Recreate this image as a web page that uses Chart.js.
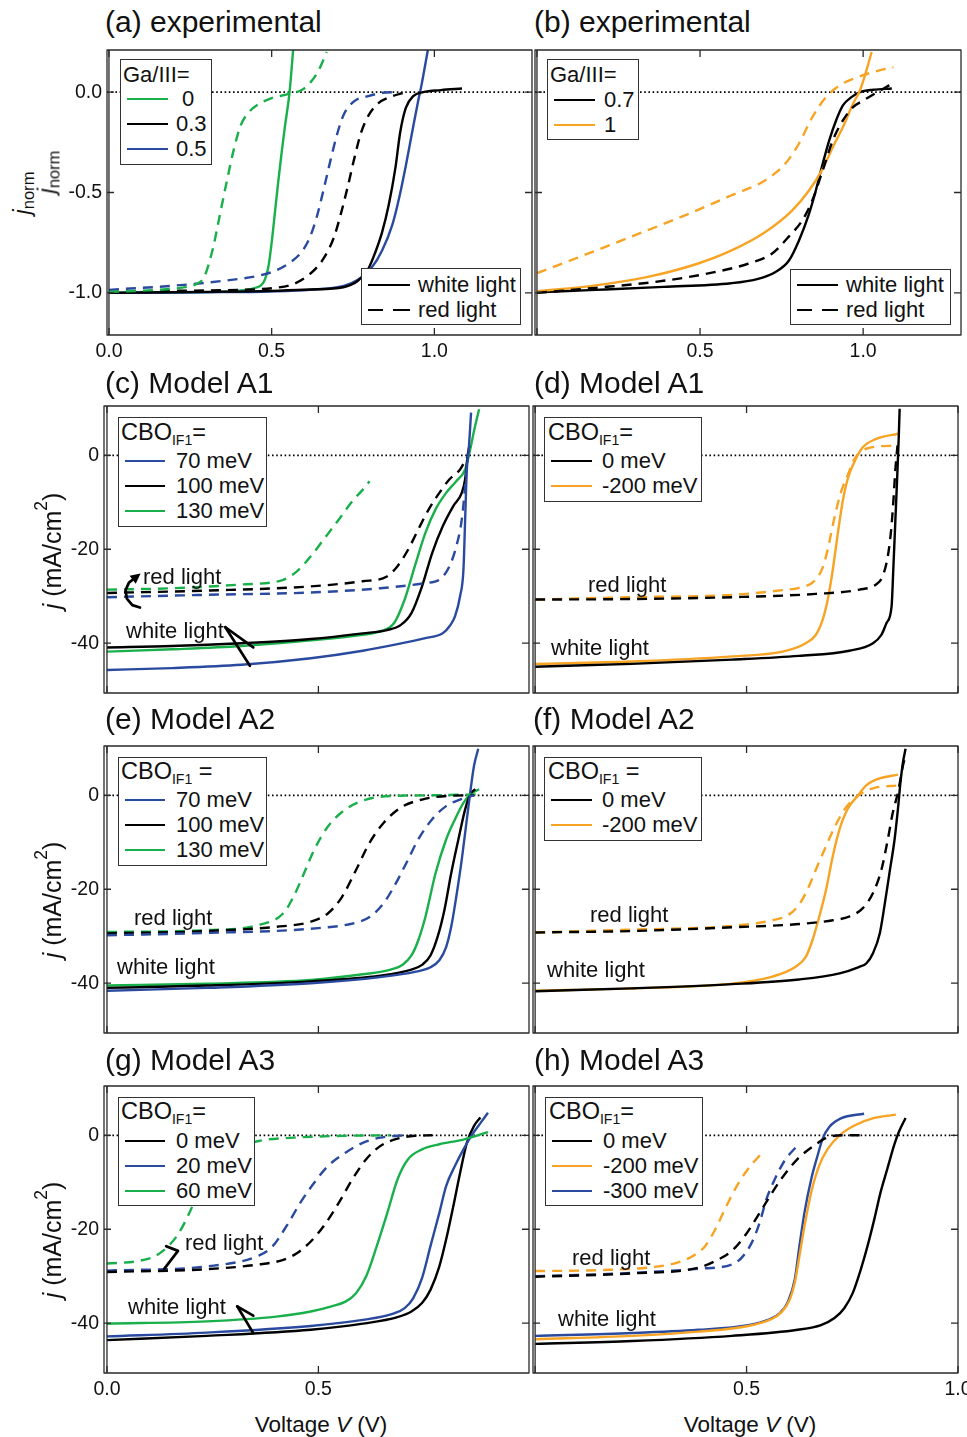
<!DOCTYPE html>
<html><head><meta charset="utf-8">
<script src="https://cdn.jsdelivr.net/npm/chart.js@4.4.1/dist/chart.umd.min.js"></script>
<style>
html,body{margin:0;padding:0;background:#fff}
body{position:relative;width:967px;height:1437px;overflow:hidden;font-family:"Liberation Sans",Arial,Helvetica,sans-serif;color:#111}
canvas{position:absolute}
.tx{position:absolute;white-space:pre;line-height:1}
.leg{position:absolute;background:#fff;border:1.3px solid #333;box-sizing:border-box}
.ln{position:absolute;height:2px}
sub{font-size:0.6em;vertical-align:-0.34em;line-height:0}
sup{font-size:0.7em;vertical-align:0.8em;line-height:0}
.rot{position:absolute;transform:translate(-50%,-50%) rotate(-90deg);white-space:nowrap;line-height:1}
.rot sub{font-size:0.72em;vertical-align:-0.3em}
</style></head><body>
<script>
// ---------------- DATA (V in volts, j normalized or mA/cm2) ----------------
// tick values / labels
const xTicks = [0, 0.5, 1.0];
const yTicksExp = [0, -0.5, -1.0];
const yTicksModel = [0, -20, -40];
const xTickLabelsA = ['0.0', '0.5', '1.0'];
const xTickLabelsB = ['', '0.5', '1.0'];
const xTickLabelsG = ['0.0', '0.5', ''];
const xTickLabelsH = ['', '0.5', '1.0'];
const yTickLabelsExp = ['0.0', '-0.5', '-1.0'];
const yTickLabelsModel = ['0', '-20', '-40'];
// legend categories
const gaRatiosA = [' 0', '0.3', '0.5'];
const gaRatiosB = ['0.7', '1'];
const cboA1A2 = ['70 meV', '100 meV', '130 meV'];
const cboRight = ['0 meV', '-200 meV'];
const cboG = ['0 meV', '20 meV', '60 meV'];
const cboH = ['0 meV', '-200 meV', '-300 meV'];
const lightTypes = ['white light', 'red light'];

// (a) experimental
const a_g0_w = [[0,-1.0],[0.2,-0.998],[0.35,-0.994],[0.42,-0.985],[0.45,-0.975],[0.47,-0.958],[0.48,-0.93],[0.49,-0.87],[0.50,-0.75],[0.51,-0.6],[0.52,-0.45],[0.53,-0.31],[0.54,-0.18],[0.555,0.0],[0.566,0.21]];
const a_g0_r = [[0,-0.995],[0.15,-0.985],[0.24,-0.97],[0.27,-0.955],[0.293,-0.92],[0.32,-0.775],[0.341,-0.61],[0.362,-0.445],[0.383,-0.29],[0.405,-0.165],[0.43,-0.1],[0.46,-0.06],[0.5,-0.03],[0.55,-0.01],[0.595,0.013],[0.62,0.05],[0.643,0.104],[0.669,0.2]];
const a_k03_w = [[0,-1.0],[0.3,-0.995],[0.5,-0.99],[0.62,-0.983],[0.72,-0.972],[0.765,-0.94],[0.797,-0.88],[0.818,-0.8],[0.839,-0.7],[0.86,-0.56],[0.88,-0.38],[0.895,-0.2],[0.912,-0.08],[0.935,-0.02],[0.966,0.0],[1.02,0.01],[1.085,0.018]];
const a_b05_w = [[0,-1.0],[0.3,-0.997],[0.5,-0.993],[0.617,-0.985],[0.722,-0.965],[0.765,-0.935],[0.807,-0.875],[0.839,-0.79],[0.871,-0.66],[0.892,-0.525],[0.913,-0.36],[0.934,-0.18],[0.95,-0.045],[0.961,0.04],[0.98,0.21]];
const a_k03_r = [[0,-0.995],[0.2,-0.99],[0.4,-0.985],[0.511,-0.975],[0.564,-0.958],[0.617,-0.907],[0.659,-0.83],[0.691,-0.725],[0.712,-0.61],[0.733,-0.476],[0.754,-0.33],[0.775,-0.2],[0.8,-0.11],[0.828,-0.055],[0.871,-0.02],[0.905,-0.003]];
const a_b05_r = [[0,-0.985],[0.193,-0.965],[0.352,-0.94],[0.458,-0.915],[0.511,-0.89],[0.564,-0.84],[0.595,-0.79],[0.617,-0.725],[0.638,-0.625],[0.659,-0.49],[0.68,-0.345],[0.701,-0.21],[0.722,-0.11],[0.754,-0.045],[0.797,-0.02],[0.84,-0.003],[0.88,0.0]];
// (b) experimental
const b_k07_w = [[0,-0.997],[0.18,-0.985],[0.388,-0.97],[0.595,-0.952],[0.678,-0.93],[0.73,-0.897],[0.772,-0.84],[0.803,-0.74],[0.834,-0.606],[0.855,-0.49],[0.876,-0.357],[0.896,-0.24],[0.917,-0.141],[0.938,-0.066],[0.964,-0.025],[0.99,0.0],[1.031,0.012],[1.088,0.018]];
const b_k07_r = [[0,-1.0],[0.18,-0.975],[0.388,-0.94],[0.544,-0.897],[0.647,-0.855],[0.72,-0.805],[0.772,-0.72],[0.813,-0.64],[0.844,-0.54],[0.876,-0.39],[0.907,-0.24],[0.938,-0.141],[0.969,-0.075],[1.0,-0.042],[1.031,-0.012],[1.062,0.017],[1.088,0.042]];
const b_o1_w = [[0,-0.993],[0.18,-0.963],[0.336,-0.922],[0.492,-0.855],[0.595,-0.79],[0.699,-0.698],[0.782,-0.59],[0.834,-0.49],[0.876,-0.382],[0.907,-0.274],[0.938,-0.174],[0.969,-0.058],[0.99,0.008],[1.01,0.108],[1.026,0.2]];
const b_o1_r = [[0,-0.902],[0.129,-0.822],[0.284,-0.723],[0.44,-0.623],[0.595,-0.515],[0.699,-0.44],[0.761,-0.357],[0.803,-0.257],[0.844,-0.125],[0.886,-0.025],[0.927,0.033],[0.969,0.066],[1.031,0.1],[1.093,0.125]];
// (c) Model A1
const c_b70_w = [[0,-45.7],[0.154,-45.3],[0.318,-44.6],[0.482,-43.2],[0.605,-41.6],[0.687,-40.2],[0.753,-38.9],[0.794,-37.9],[0.81,-36.4],[0.823,-34.3],[0.835,-30.0],[0.843,-24.3],[0.847,-13.7],[0.851,-3.0],[0.855,0.6],[0.861,9.1]];
const c_k100_w = [[0,-40.9],[0.154,-40.6],[0.318,-40.0],[0.482,-39.1],[0.605,-37.9],[0.662,-37.2],[0.695,-36.1],[0.72,-33.6],[0.745,-27.9],[0.769,-20.8],[0.794,-15.1],[0.819,-10.8],[0.839,-8.0],[0.847,-5.1],[0.853,0.0],[0.857,2.0]];
const c_g130_w = [[0,-41.8],[0.154,-41.3],[0.318,-40.6],[0.482,-39.4],[0.605,-38.2],[0.646,-37.5],[0.679,-35.7],[0.704,-30.7],[0.728,-23.6],[0.753,-16.5],[0.777,-11.5],[0.802,-8.0],[0.826,-5.5],[0.847,-3.0],[0.859,1.3],[0.869,5.6],[0.88,9.8]];
const c_g130_r = [[0,-28.6],[0.154,-28.3],[0.318,-27.5],[0.417,-26.5],[0.449,-24.7],[0.482,-21.5],[0.515,-17.6],[0.548,-13.7],[0.58,-9.8],[0.605,-7.3],[0.621,-5.5]];
const c_k100_r = [[0,-29.3],[0.236,-28.8],[0.482,-27.9],[0.605,-26.8],[0.662,-25.8],[0.687,-23.6],[0.712,-20.1],[0.736,-15.8],[0.761,-11.5],[0.786,-8.0],[0.81,-5.1],[0.835,-3.0],[0.851,-0.5]];
const c_b70_r = [[0,-30.2],[0.236,-29.7],[0.482,-29.2],[0.646,-28.3],[0.753,-27.2],[0.786,-26.5],[0.81,-23.6],[0.826,-19.4],[0.839,-13.7],[0.847,-6.5],[0.851,-1.6],[0.853,0.0]];
// (d) Model A1
const d_k0_w = [[0,-45.0],[0.228,-44.4],[0.466,-43.5],[0.624,-42.7],[0.743,-41.6],[0.799,-40.0],[0.819,-38.2],[0.831,-35.7],[0.843,-32.1],[0.847,-24.3],[0.852,-13.6],[0.857,-2.9],[0.86,4.2],[0.862,9.9]];
const d_k0_r = [[0,-30.7],[0.228,-30.6],[0.466,-30.2],[0.664,-29.5],[0.767,-28.6],[0.806,-27.5],[0.822,-25.7],[0.834,-21.5],[0.842,-15.8],[0.847,-10.0],[0.852,-2.9],[0.857,2.1]];
const d_o200_w = [[0,-44.4],[0.228,-43.9],[0.466,-42.8],[0.585,-41.8],[0.64,-40.0],[0.664,-38.2],[0.68,-35.0],[0.692,-30.7],[0.704,-24.3],[0.716,-16.5],[0.727,-10.0],[0.739,-5.1],[0.755,-1.4],[0.775,1.7],[0.807,3.5],[0.858,4.6]];
const d_o200_r = [[0,-30.7],[0.228,-30.2],[0.466,-29.7],[0.585,-28.7],[0.624,-28.2],[0.66,-26.8],[0.68,-23.9],[0.692,-20.0],[0.707,-13.6],[0.723,-7.9],[0.739,-4.3],[0.755,-0.8],[0.783,1.4],[0.854,2.1]];
// (e) Model A2
const e_b70_w = [[0,-41.6],[0.236,-41.0],[0.482,-40.0],[0.646,-38.7],[0.728,-37.6],[0.765,-36.6],[0.786,-35.1],[0.802,-32.3],[0.814,-28.0],[0.826,-21.6],[0.839,-13.7],[0.851,-5.1],[0.859,0.6],[0.868,6.3],[0.878,9.9]];
const e_k100_w = [[0,-41.0],[0.236,-40.5],[0.482,-39.6],[0.646,-38.4],[0.72,-37.1],[0.745,-36.1],[0.765,-34.1],[0.782,-30.1],[0.798,-24.4],[0.814,-16.6],[0.831,-9.4],[0.847,-3.0],[0.859,0.2],[0.871,1.3]];
const e_g130_w = [[0,-40.5],[0.236,-40.1],[0.482,-39.3],[0.605,-38.1],[0.671,-37.1],[0.7,-36.0],[0.72,-34.1],[0.736,-30.9],[0.753,-25.9],[0.777,-16.6],[0.802,-9.4],[0.823,-5.1],[0.843,-1.6],[0.859,0.2],[0.88,1.3]];
const e_g130_r = [[0,-29.1],[0.236,-28.7],[0.359,-27.6],[0.417,-25.1],[0.441,-21.6],[0.466,-16.6],[0.49,-11.6],[0.523,-6.6],[0.564,-3.0],[0.613,-0.9],[0.687,-0.1],[0.769,0.0],[0.876,0.2]];
const e_k100_r = [[0,-29.4],[0.236,-28.9],[0.4,-28.0],[0.482,-26.9],[0.523,-25.1],[0.556,-21.6],[0.589,-15.9],[0.621,-10.1],[0.654,-5.9],[0.695,-2.6],[0.745,-0.9],[0.81,-0.1],[0.868,0.0]];
const e_b70_r = [[0,-29.8],[0.236,-29.3],[0.482,-28.4],[0.589,-27.1],[0.621,-25.9],[0.654,-23.0],[0.679,-19.4],[0.708,-14.4],[0.736,-9.4],[0.769,-5.1],[0.802,-2.3],[0.835,-0.9],[0.868,0.0]];
// (f) Model A2
const f_k0_w = [[0,-41.7],[0.228,-41.1],[0.466,-40.2],[0.624,-39.2],[0.72,-37.9],[0.767,-36.5],[0.783,-35.8],[0.799,-33.6],[0.815,-29.4],[0.826,-23.6],[0.838,-16.5],[0.85,-9.4],[0.858,-2.9],[0.864,2.8],[0.87,7.1],[0.876,9.9]];
const f_k0_r = [[0,-29.2],[0.228,-28.9],[0.466,-28.1],[0.624,-27.4],[0.704,-26.6],[0.743,-25.8],[0.775,-24.0],[0.799,-20.8],[0.819,-15.8],[0.834,-9.4],[0.846,-3.6],[0.858,0.6],[0.87,6.4],[0.874,7.8]];
const f_o200_w = [[0,-41.6],[0.228,-41.1],[0.466,-40.1],[0.561,-38.6],[0.616,-36.5],[0.64,-34.4],[0.656,-30.8],[0.672,-25.8],[0.688,-20.1],[0.704,-12.9],[0.72,-7.2],[0.739,-2.9],[0.763,-0.1],[0.783,2.1],[0.815,3.6],[0.858,4.4]];
const f_o200_r = [[0,-29.2],[0.228,-28.6],[0.466,-27.8],[0.561,-26.6],[0.6,-25.4],[0.624,-23.3],[0.644,-20.1],[0.664,-15.8],[0.688,-10.8],[0.712,-6.1],[0.735,-2.6],[0.763,-0.1],[0.799,1.5],[0.858,2.1]];
// (g) Model A3
const g_k0_w = [[0,-43.6],[0.236,-42.7],[0.482,-41.4],[0.605,-40.1],[0.687,-38.7],[0.72,-37.5],[0.745,-35.7],[0.765,-32.9],[0.786,-27.9],[0.802,-22.2],[0.819,-15.1],[0.835,-8.0],[0.851,-1.6],[0.868,2.0],[0.883,3.8]];
const g_b20_w = [[0,-42.8],[0.236,-42.0],[0.482,-40.6],[0.605,-39.3],[0.679,-37.9],[0.704,-36.8],[0.724,-34.7],[0.745,-30.4],[0.765,-23.6],[0.786,-16.5],[0.802,-10.8],[0.823,-6.5],[0.843,-3.0],[0.864,0.2],[0.884,2.7],[0.901,4.8]];
const g_g60_w = [[0,-40.1],[0.236,-39.6],[0.4,-38.6],[0.482,-37.5],[0.531,-36.4],[0.564,-35.4],[0.589,-33.6],[0.613,-30.0],[0.638,-23.6],[0.663,-16.5],[0.687,-9.4],[0.712,-5.1],[0.745,-3.0],[0.786,-1.9],[0.843,-0.9],[0.901,0.7]];
const g_g60_r = [[0,-27.3],[0.071,-26.8],[0.112,-25.8],[0.145,-23.6],[0.17,-20.8],[0.195,-16.5],[0.219,-11.5],[0.252,-6.5],[0.301,-3.0],[0.359,-1.2],[0.441,-0.5],[0.564,-0.1],[0.67,0.0]];
const g_k0_r = [[0,-29.1],[0.236,-28.5],[0.359,-27.5],[0.417,-26.5],[0.449,-25.1],[0.482,-22.6],[0.515,-19.0],[0.548,-14.4],[0.58,-9.4],[0.613,-5.1],[0.646,-2.3],[0.687,-0.7],[0.728,-0.1],[0.769,0.0]];
const g_b20_r = [[0,-28.8],[0.236,-27.9],[0.359,-25.6],[0.392,-23.6],[0.424,-19.4],[0.457,-14.4],[0.49,-10.1],[0.523,-6.5],[0.564,-3.7],[0.605,-1.6],[0.646,-0.5],[0.687,-0.1],[0.72,0.0]];
// (h) Model A3
const h_k0_w = [[0,-44.4],[0.23,-43.8],[0.465,-42.7],[0.621,-41.4],[0.676,-40.4],[0.708,-38.9],[0.731,-36.8],[0.751,-33.6],[0.77,-28.6],[0.786,-23.6],[0.802,-17.9],[0.817,-12.1],[0.833,-7.1],[0.849,-2.1],[0.86,0.7],[0.876,3.7]];
const h_o200_w = [[0,-43.4],[0.23,-42.7],[0.386,-41.8],[0.504,-40.6],[0.559,-39.1],[0.582,-37.7],[0.602,-35.0],[0.614,-31.4],[0.625,-25.7],[0.637,-19.3],[0.653,-12.1],[0.672,-6.4],[0.692,-2.9],[0.72,0.0],[0.755,2.1],[0.802,3.7],[0.853,4.4]];
const h_b300_w = [[0,-42.7],[0.23,-42.1],[0.386,-41.4],[0.504,-40.4],[0.551,-39.3],[0.578,-37.9],[0.598,-35.4],[0.614,-30.7],[0.625,-23.6],[0.637,-16.4],[0.653,-9.3],[0.668,-4.3],[0.68,-0.7],[0.696,1.8],[0.723,3.6],[0.778,4.6]];
const h_o200_r = [[0,-28.9],[0.151,-28.7],[0.292,-27.9],[0.347,-26.8],[0.378,-25.4],[0.402,-23.6],[0.426,-20.0],[0.449,-15.7],[0.473,-11.4],[0.504,-7.1],[0.535,-3.9]];
const h_b300_r = [[0,-30.0],[0.23,-29.3],[0.386,-28.4],[0.465,-27.5],[0.488,-26.1],[0.512,-22.9],[0.531,-18.6],[0.547,-13.6],[0.567,-9.3],[0.59,-5.4],[0.621,-2.1]];
const h_k0_r = [[0,-30.1],[0.23,-29.4],[0.386,-28.2],[0.425,-26.8],[0.465,-24.6],[0.496,-21.4],[0.527,-17.1],[0.551,-13.6],[0.582,-9.3],[0.621,-5.0],[0.661,-2.1],[0.692,-0.4],[0.731,0.0],[0.77,0.0]];
// annotation pointer lines (data coordinates)
const arrowC = [[[0.28,-36.6],[0.346,-40.9]],[[0.28,-36.6],[0.338,-44.8]]];
const curlC = [[0.078,-32.4],[0.06,-31.9],[0.047,-30.5],[0.044,-28.7],[0.052,-27.1],[0.072,-25.7]];
const arrowG = [[[0.308,-36.4],[0.346,-38.4]],[[0.308,-36.4],[0.346,-42.1]]];
const bracketG = [[0.14,-23.6],[0.168,-24.6],[0.135,-28.5]];

// ---------------- STYLE / LAYOUT ----------------
const COL = {green:'#19b04b', blue:'#2a4a9f', black:'#000000', orange:'#f7a323'};
const FONT = '"Liberation Sans", Arial, Helvetica, sans-serif';
const PAD = {left:62, top:10, right:12, bottom:36};
const EXP_X = [-0.006, 1.30], EXP_Y = [-1.21, 0.21];
const MOD_Y = [-50.6, 10.5];
const LEFT_X = [-0.007, 0.998], RIGHT_X = [-0.005, 1.0];

const panels = [
  {box:[107,50,532,335], x:EXP_X, y:EXP_Y, yt:yTicksExp, xl:xTickLabelsA, yl:yTickLabelsExp,
   series:[[a_g0_r,'green',1],[a_b05_r,'blue',1],[a_k03_r,'black',1],[a_k03_w,'black',0],[a_b05_w,'blue',0],[a_g0_w,'green',0]]},
  {box:[535,50,961,335], x:EXP_X, y:EXP_Y, yt:yTicksExp, xl:xTickLabelsB, yl:null,
   series:[[b_o1_r,'orange',1],[b_k07_r,'black',1],[b_o1_w,'orange',0],[b_k07_w,'black',0]]},
  {box:[104,406,529,693], x:LEFT_X, y:MOD_Y, yt:yTicksModel, xl:null, yl:yTickLabelsModel,
   series:[[c_g130_r,'green',1],[c_k100_r,'black',1],[c_b70_r,'blue',1],[c_b70_w,'blue',0],[c_k100_w,'black',0],[c_g130_w,'green',0]],
   lines:arrowC, curl:curlC},
  {box:[533,406,958,693], x:RIGHT_X, y:MOD_Y, yt:yTicksModel, xl:null, yl:null,
   series:[[d_k0_r,'black',1],[d_o200_r,'orange',1],[d_k0_w,'black',0],[d_o200_w,'orange',0]]},
  {box:[104,746,529,1033], x:LEFT_X, y:MOD_Y, yt:yTicksModel, xl:null, yl:yTickLabelsModel,
   series:[[e_b70_r,'blue',1],[e_k100_r,'black',1],[e_g130_r,'green',1],[e_b70_w,'blue',0],[e_k100_w,'black',0],[e_g130_w,'green',0]]},
  {box:[533,746,958,1033], x:RIGHT_X, y:MOD_Y, yt:yTicksModel, xl:null, yl:null,
   series:[[f_k0_r,'black',1],[f_o200_r,'orange',1],[f_k0_w,'black',0],[f_o200_w,'orange',0]]},
  {box:[104,1086,529,1373], x:LEFT_X, y:MOD_Y, yt:yTicksModel, xl:xTickLabelsG, yl:yTickLabelsModel,
   series:[[g_g60_r,'green',1],[g_k0_r,'black',1],[g_b20_r,'blue',1],[g_g60_w,'green',0],[g_b20_w,'blue',0],[g_k0_w,'black',0]],
   lines:arrowG, poly:bracketG},
  {box:[533,1086,958,1373], x:RIGHT_X, y:MOD_Y, yt:yTicksModel, xl:xTickLabelsH, yl:null,
   series:[[h_k0_r,'black',1],[h_b300_r,'blue',1],[h_o200_r,'orange',1],[h_k0_w,'black',0],[h_o200_w,'orange',0],[h_b300_w,'blue',0]]}
];

const framePlugin = {
  id:'frame',
  beforeDatasetsDraw(chart){
    const {ctx, chartArea:a, scales:{x,y}} = chart;
    const y0 = y.getPixelForValue(0);
    ctx.save(); ctx.strokeStyle='#000'; ctx.lineWidth=1.8; ctx.setLineDash([1.6,2.6]);
    ctx.beginPath(); ctx.moveTo(a.left, y0); ctx.lineTo(a.right, y0); ctx.stroke(); ctx.restore();
  },
  afterDatasetsDraw(chart){
    const o = chart.options.plugins.frame;
    const {ctx, chartArea:a, scales:{x,y}} = chart;
    ctx.save();
    ctx.setLineDash([]);
    // annotation pointers
    ctx.strokeStyle='#000'; ctx.lineWidth=2.7; ctx.lineCap='round'; ctx.lineJoin='round';
    const P = p => [x.getPixelForValue(p[0]), y.getPixelForValue(p[1])];
    (o.lines||[]).forEach(seg=>{ const s=P(seg[0]), e=P(seg[1]); ctx.beginPath(); ctx.moveTo(s[0],s[1]); ctx.lineTo(e[0],e[1]); ctx.stroke(); });
    if (o.poly){ ctx.beginPath(); o.poly.forEach((p,i)=>{const q=P(p); i?ctx.lineTo(q[0],q[1]):ctx.moveTo(q[0],q[1]);}); ctx.stroke(); }
    if (o.curl){
      const pts=o.curl.map(P);
      ctx.beginPath(); ctx.moveTo(pts[0][0],pts[0][1]);
      for(let i=1;i<pts.length;i++) ctx.lineTo(pts[i][0],pts[i][1]);
      ctx.stroke();
      const e=pts[pts.length-1], s=pts[pts.length-2];
      const ang=Math.atan2(e[1]-s[1], e[0]-s[0]);
      ctx.fillStyle='#000'; ctx.beginPath();
      ctx.moveTo(e[0]+4*Math.cos(ang), e[1]+4*Math.sin(ang));
      ctx.lineTo(e[0]-6*Math.cos(ang)+5*Math.sin(ang), e[1]-6*Math.sin(ang)-5*Math.cos(ang));
      ctx.lineTo(e[0]-6*Math.cos(ang)-5*Math.sin(ang), e[1]-6*Math.sin(ang)+5*Math.cos(ang));
      ctx.closePath(); ctx.fill();
    }
    // frame
    ctx.lineCap='butt';
    ctx.strokeStyle='#2a2a2a'; ctx.lineWidth=1.3;
    ctx.strokeRect(a.left, a.top, a.right-a.left, a.bottom-a.top);
    const xz = x.getPixelForValue(0);
    ctx.beginPath(); ctx.moveTo(xz, a.top); ctx.lineTo(xz, a.bottom); ctx.stroke();
    const T = 7;
    ctx.beginPath();
    xTicks.forEach(v=>{ if(v < x.min || v > x.max) return; const p=x.getPixelForValue(v);
      ctx.moveTo(p,a.bottom); ctx.lineTo(p,a.bottom-T); ctx.moveTo(p,a.top); ctx.lineTo(p,a.top+T); });
    o.yt.forEach(v=>{ const p=y.getPixelForValue(v);
      ctx.moveTo(a.left,p); ctx.lineTo(a.left+T,p); ctx.moveTo(a.right,p); ctx.lineTo(a.right-T,p); });
    ctx.stroke();
    // tick labels
    ctx.fillStyle='#111'; ctx.font='19.5px '+FONT; ctx.textBaseline='middle';
    if (o.xl){ ctx.textAlign='center'; xTicks.forEach((v,i)=>{ if(o.xl[i]) ctx.fillText(o.xl[i], x.getPixelForValue(v), a.bottom+17); }); }
    if (o.yl){ ctx.textAlign='right'; o.yt.forEach((v,i)=>{ ctx.fillText(o.yl[i], a.left-5, y.getPixelForValue(v)); }); }
    ctx.restore();
  }
};

panels.forEach(p=>{
  const [L,T,R,B] = p.box;
  const cv = document.createElement('canvas');
  const W = (R-L)+PAD.left+PAD.right, H = (B-T)+PAD.top+PAD.bottom;
  cv.width=W; cv.height=H; cv.style.width=W+'px'; cv.style.height=H+'px';
  cv.style.left=(L-PAD.left)+'px'; cv.style.top=(T-PAD.top)+'px';
  document.body.appendChild(cv);
  new Chart(cv, {
    type:'line',
    data:{datasets:p.series.map(([d,c,dash])=>({
      data:d.map(([vx,vy])=>({x:vx,y:vy})),
      borderColor:COL[c], borderWidth:2.4, borderDash:dash?[10,7]:[],
      pointRadius:0, cubicInterpolationMode:'monotone', fill:false
    }))},
    options:{
      responsive:false, animation:false, events:[],
      layout:{padding:PAD},
      scales:{x:{type:'linear', min:p.x[0], max:p.x[1], display:false},
              y:{type:'linear', min:p.y[0], max:p.y[1], display:false}},
      plugins:{legend:{display:false}, tooltip:{enabled:false},
               frame:{yt:p.yt, xl:p.xl, yl:p.yl, lines:p.lines, curl:p.curl, poly:p.poly}}
    },
    plugins:[framePlugin]
  });
});

// ---------------- HTML TEXT ----------------
function txt(html, left, cy, size, style){
  const d=document.createElement('div'); d.className='tx';
  d.style.left=left+'px'; d.style.top=(cy-size*0.5)+'px'; d.style.fontSize=size+'px';
  if(style) d.style.cssText+=style;
  d.innerHTML=html; document.body.appendChild(d); return d;
}
function rot(html, cx, cy, size){
  const d=document.createElement('div'); d.className='rot';
  d.style.left=cx+'px'; d.style.top=cy+'px'; d.style.fontSize=size+'px'; d.innerHTML=html; document.body.appendChild(d);
}
// panel titles
[['(a) experimental',105,22],['(b) experimental',534,22],['(c) Model A1',105,383],['(d) Model A1',534,383],
 ['(e) Model A2',105,719],['(f) Model A2',533,719],['(g) Model A3',105,1060],['(h) Model A3',534,1060]]
 .forEach(([t,x,y])=>txt(t,x,y,30));
// axis titles
rot('<i>j</i><sub>norm</sub>', 22, 193, 23);
rot('<i>j</i><sub>norm</sub>', 47, 172, 23);
rot('<i>j</i> (mA/cm<sup>2</sup>)', 52, 551, 25);
rot('<i>j</i> (mA/cm<sup>2</sup>)', 52, 900, 25);
rot('<i>j</i> (mA/cm<sup>2</sup>)', 52, 1240, 25);
txt('Voltage <i>V</i> (V)', 0, 1425, 22.5, 'left:321px;transform:translateX(-50%)');
txt('Voltage <i>V</i> (V)', 0, 1425, 22.5, 'left:750px;transform:translateX(-50%)');

// legends
const CBO = 'CBO<sub>IF1</sub>=';
const CBOs = 'CBO<sub>IF1</sub> =';
const legends = [
  {box:[120,59,212,165], title:'Ga/III=', ts:22, tl:123, ty:75, lx:[127,168], tx:176, rows:[['green',0,gaRatiosA[0],99],['black',0,gaRatiosA[1],124],['blue',0,gaRatiosA[2],149]]},
  {box:[361,268,521,325], lx:[368,410], tx:418, rows:[['black',0,lightTypes[0],285],['black',1,lightTypes[1],310]]},
  {box:[547,59,639,140], title:'Ga/III=', ts:22, tl:550, ty:75, lx:[554,595], tx:604, rows:[['black',0,gaRatiosB[0],100],['orange',0,gaRatiosB[1],125]]},
  {box:[790,269,951,325], lx:[797,838], tx:846, rows:[['black',0,lightTypes[0],285],['black',1,lightTypes[1],310]]},
  {box:[118,417,267,527], title:CBO, ts:23.5, tl:121, ty:433, lx:[125,165], tx:176, rows:[['blue',0,cboA1A2[0],461],['black',0,cboA1A2[1],486],['green',0,cboA1A2[2],511]]},
  {box:[544,417,702,502], title:CBO, ts:23.5, tl:548, ty:433, lx:[551,592], tx:602, rows:[['black',0,cboRight[0],461],['orange',0,cboRight[1],486]]},
  {box:[118,757,267,866], title:CBOs, ts:23.5, tl:121, ty:772, lx:[125,165], tx:176, rows:[['blue',0,cboA1A2[0],800],['black',0,cboA1A2[1],825],['green',0,cboA1A2[2],850]]},
  {box:[544,757,702,841], title:CBOs, ts:23.5, tl:548, ty:772, lx:[551,592], tx:602, rows:[['black',0,cboRight[0],800],['orange',0,cboRight[1],825]]},
  {box:[118,1097,255,1206], title:CBO, ts:23.5, tl:121, ty:1112, lx:[125,165], tx:176, rows:[['black',0,cboG[0],1141],['blue',0,cboG[1],1166],['green',0,cboG[2],1191]]},
  {box:[545,1097,703,1206], title:CBO, ts:23.5, tl:549, ty:1112, lx:[552,592], tx:603, rows:[['black',0,cboH[0],1141],['orange',0,cboH[1],1166],['blue',0,cboH[2],1191]]}
];
legends.forEach(g=>{
  const b=document.createElement('div'); b.className='leg';
  b.style.left=g.box[0]+'px'; b.style.top=g.box[1]+'px';
  b.style.width=(g.box[2]-g.box[0])+'px'; b.style.height=(g.box[3]-g.box[1])+'px';
  document.body.appendChild(b);
  if(g.title) txt(g.title, g.tl, g.ty, g.ts);
  g.rows.forEach(([c,dash,t,y])=>{
    const l=document.createElement('div'); l.className='ln';
    const w=g.lx[1]-g.lx[0];
    l.style.left=g.lx[0]+'px'; l.style.top=(y-1)+'px'; l.style.width=w+'px';
    l.style.background = dash ? `linear-gradient(90deg, ${COL[c]} 0 15px, transparent 15px 25px, ${COL[c]} 25px ${w}px)` : COL[c];
    document.body.appendChild(l);
    txt(t, g.tx, y, 22);
  });
});
// in-plot annotations
[[lightTypes[1],143,577],[lightTypes[0],126,631],[lightTypes[1],588,585],[lightTypes[0],551,648],
 [lightTypes[1],134,918],[lightTypes[0],117,967],[lightTypes[1],590,915],[lightTypes[0],547,970],
 [lightTypes[1],185,1243],[lightTypes[0],128,1307],[lightTypes[1],572,1258],[lightTypes[0],558,1319]]
 .forEach(([t,x,y])=>txt(t,x,y,22));
</script>
</body></html>
